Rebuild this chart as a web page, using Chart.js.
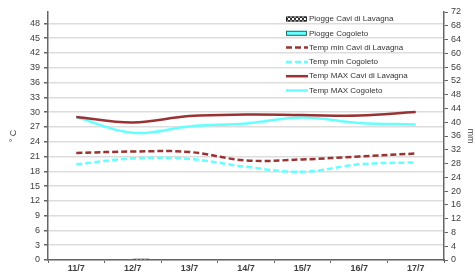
<!DOCTYPE html>
<html>
<head>
<meta charset="utf-8">
<script src="https://cdn.jsdelivr.net/npm/chart.js@4"></script>
<style>
  html, body { margin: 0; padding: 0; background: #fff; }
  #wrap { width: 476px; height: 275px; }
</style>
</head>
<body>
<div id="wrap"><canvas id="meteoChart" width="476" height="275"></canvas></div>
<script>
// --- data ---
const days = ['11/7', '12/7', '13/7', '14/7', '15/7', '16/7', '17/7'];
const rainCavi = [0, 0.4, 0, 0, 0, 0, 0];          // mm
const rainCogoleto = [0, 0, 0, 0, 0, 0, 0];        // mm
const tMinCavi = [21.7, 22.0, 21.9, 20.2, 20.4, 21.0, 21.6];
const tMinCogoleto = [19.4, 20.6, 20.5, 18.9, 17.9, 19.4, 19.8];
const tMaxCavi = [29.0, 27.9, 29.2, 29.5, 29.4, 29.3, 30.0];
const tMaxCogoleto = [29.0, 25.8, 27.1, 27.7, 28.9, 27.8, 27.5];

const darkRed = '#993333';
const cyan = '#66FFFF';
const textColor = '#404040';
const axisColor = '#666666';

// hatched fill for the Cavi rain bars
function makeHatch() {
    const c = document.createElement('canvas');
    c.width = 4; c.height = 4;
    const g = c.getContext('2d');
    g.fillStyle = '#ffffff';
    g.fillRect(0, 0, 4, 4);
    g.fillStyle = '#333333';
    g.fillRect(0, 0, 2, 2);
    g.fillRect(2, 2, 2, 2);
    return g.createPattern(c, 'repeat');
}
const hatch = makeHatch();

// legend drawn inside the plot, top right
const legendOrder = [1, 0, 2, 3, 4, 5];
const insideLegend = {
    id: 'insideLegend',
    afterDraw(chart) {
        const ctx = chart.ctx;
        const x0 = 286, y0 = 19, rowH = 14.3, symW = 21;
        ctx.save();
        ctx.font = '8px "Liberation Sans", Arial, sans-serif';
        ctx.textBaseline = 'middle';
        ctx.textAlign = 'left';
        legendOrder.forEach((idx, i) => {
            const ds = chart.data.datasets[idx];
            const y = y0 + i * rowH;
            if (ds.type === 'bar') {
                ctx.fillStyle = ds.backgroundColor;
                ctx.fillRect(x0, y - 2.5, symW, 5);
                ctx.lineWidth = 1;
                ctx.strokeStyle = ds.borderColor;
                ctx.strokeRect(x0 + 0.5, y - 2, symW - 1, 4);
            } else {
                ctx.strokeStyle = ds.borderColor;
                ctx.lineWidth = ds.borderWidth;
                ctx.setLineDash(ds.borderDash || []);
                ctx.beginPath();
                ctx.moveTo(x0, y);
                ctx.lineTo(x0 + symW + 1, y);
                ctx.stroke();
                ctx.setLineDash([]);
            }
            ctx.fillStyle = '#333333';
            ctx.fillText(ds.label, x0 + symW + 2, y);
        });
        ctx.restore();
    }
};

const tickFont = { family: '"Liberation Sans", Arial, sans-serif', size: 9 };

new Chart(document.getElementById('meteoChart'), {
    type: 'bar',
    data: {
        labels: days,
        datasets: [
            {
                type: 'bar', label: 'Piogge Cogoleto', data: rainCogoleto, yAxisID: 'y1',
                backgroundColor: cyan, borderColor: '#1f6f6f', borderWidth: 1,
                categoryPercentage: 0.6, barPercentage: 0.95, order: 10
            },
            {
                type: 'bar', label: 'Piogge Cavi di Lavagna', data: rainCavi, yAxisID: 'y1',
                backgroundColor: hatch, borderColor: '#222222', borderWidth: 1.5,
                categoryPercentage: 0.6, barPercentage: 0.95, order: 10
            },
            {
                type: 'line', label: 'Temp min Cavi di Lavagna', data: tMinCavi, yAxisID: 'y',
                borderColor: darkRed, borderWidth: 2.5, borderDash: [6, 3],
                pointRadius: 0, tension: 0.4, fill: false, order: 1
            },
            {
                type: 'line', label: 'Temp min Cogoleto', data: tMinCogoleto, yAxisID: 'y',
                borderColor: cyan, borderWidth: 2.5, borderDash: [6, 3],
                pointRadius: 0, tension: 0.4, fill: false, order: 2
            },
            {
                type: 'line', label: 'Temp MAX Cavi di Lavagna', data: tMaxCavi, yAxisID: 'y',
                borderColor: darkRed, borderWidth: 2.5,
                pointRadius: 0, tension: 0.4, fill: false, order: 1
            },
            {
                type: 'line', label: 'Temp MAX Cogoleto', data: tMaxCogoleto, yAxisID: 'y',
                borderColor: cyan, borderWidth: 2.5,
                pointRadius: 0, tension: 0.4, fill: false, order: 2
            }
        ]
    },
    options: {
        responsive: false,
        animation: false,
        layout: { padding: { top: 12, left: 0, right: 0, bottom: 0 } },
        plugins: {
            legend: { display: false },
            tooltip: { enabled: false }
        },
        scales: {
            x: {
                offset: true,
                grid: { offset: true, drawOnChartArea: false, tickLength: 3, tickColor: axisColor },
                border: { color: axisColor, width: 1.5 },
                ticks: { color: textColor, font: { ...tickFont, weight: 'bold' }, padding: 0, maxRotation: 0 },
                afterFit(scale) { scale.height = 15; }
            },
            y: {
                position: 'left',
                min: 0, max: 50.3, bounds: 'data',
                ticks: { stepSize: 3, includeBounds: false, autoSkip: false, color: textColor, font: tickFont, padding: 4 },
                grid: { color: '#dddddd', lineWidth: 1.5, tickLength: 4, tickColor: axisColor },
                border: { color: axisColor, width: 1.5 },
                title: { display: true, text: '° C', color: textColor, font: tickFont, padding: { top: 8, bottom: 0 } },
                afterFit(scale) { scale.width = 48; }
            },
            y1: {
                position: 'right',
                min: 0, max: 72,
                ticks: { stepSize: 4, autoSkip: false, color: textColor, font: tickFont, padding: 3 },
                grid: { drawOnChartArea: false, tickLength: 4, tickColor: axisColor },
                border: { color: axisColor, width: 1.5 },
                title: { display: true, text: 'mm', color: textColor, font: tickFont, padding: { top: 0, bottom: 0 } },
                afterFit(scale) { scale.width = 32; }
            }
        }
    },
    plugins: [insideLegend]
});
</script>
</body>
</html>
